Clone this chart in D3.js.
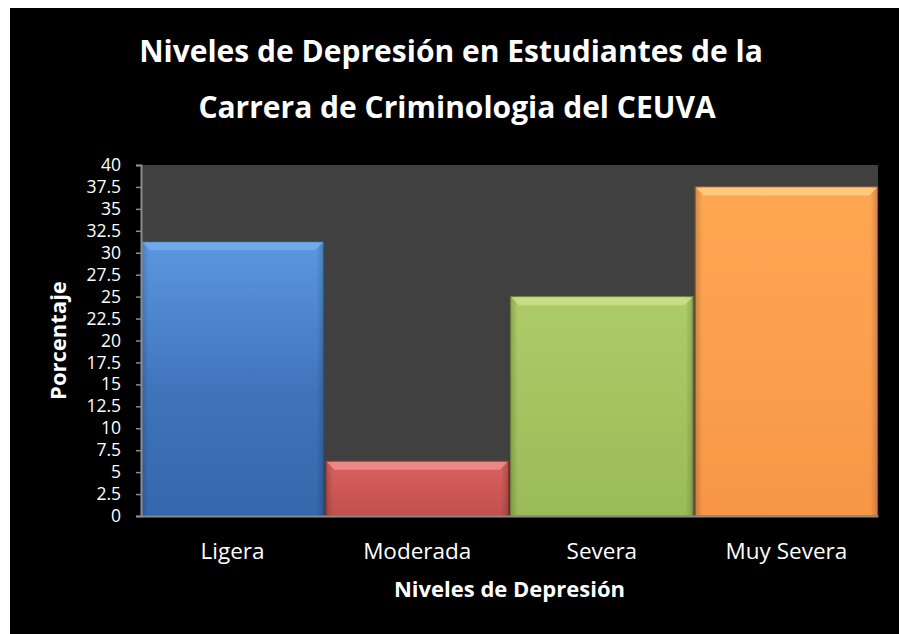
<!DOCTYPE html>
<html>
<head>
<meta charset="utf-8">
<script src="https://cdn.jsdelivr.net/npm/d3@7"></script>
<style>
  html, body { margin: 0; padding: 0; background: #ffffff; }
  svg { display: block; }
  text { font-family: "Open Sans", Lato, sans-serif; fill: #ffffff; }
</style>
</head>
<body>
<svg id="chart" width="899" height="634"></svg>
<script>
// Depression levels (percent of students)
const categories = ["Ligera", "Moderada", "Severa", "Muy Severa"];
const values = [31.25, 6.25, 25, 37.5];
const tickValues = [0, 2.5, 5, 7.5, 10, 12.5, 15, 17.5, 20, 22.5, 25, 27.5, 30, 32.5, 35, 37.5, 40];
const titleLines = ["Niveles de Depresión en Estudiantes de la", "Carrera de Criminologia del CEUVA"];
const xTitle = "Niveles de Depresión";
const yTitle = "Porcentaje";
const barColors = [
  { top: "#5b97e0", body: "#3f74bb", bottom: "#3567ab", edge: "#2b558e", bevel: "#78b2f2" },
  { top: "#d9615e", body: "#cc5855", bottom: "#c0504d", edge: "#8e3533", bevel: "#f39a97" },
  { top: "#aecb69", body: "#a4c35f", bottom: "#9bbb59", edge: "#6f8a3c", bevel: "#d0e696" },
  { top: "#ffa653", body: "#fa9f4d", bottom: "#f79646", edge: "#a8602a", bevel: "#ffd88e" }
];

const W = 899, H = 634;
const svg = d3.select("#chart");

// chart frame: black panel with a thin white margin top/left
svg.append("rect").attr("x", 10).attr("y", 8).attr("width", W - 10).attr("height", H - 8).attr("fill", "#000000");

const plot = { left: 141, right: 878, top: 165, bottom: 516 };

const x = d3.scaleBand().domain(categories).range([plot.left, plot.right]).paddingInner(0.012).paddingOuter(0.002);
const y = d3.scaleLinear().domain([0, 40]).range([plot.bottom, plot.top]);

// plot background
svg.append("rect")
  .attr("x", plot.left).attr("y", plot.top)
  .attr("width", plot.right - plot.left).attr("height", plot.bottom - plot.top)
  .attr("fill", "#404040");

// gradients per bar
const defs = svg.append("defs");
barColors.forEach((c, i) => {
  const g = defs.append("linearGradient").attr("id", "bg" + i).attr("x1", 0).attr("y1", 0).attr("x2", 0).attr("y2", 1);
  g.append("stop").attr("offset", "0%").attr("stop-color", c.top);
  g.append("stop").attr("offset", "55%").attr("stop-color", c.body);
  g.append("stop").attr("offset", "100%").attr("stop-color", c.bottom);
  const s = defs.append("linearGradient").attr("id", "sg" + i).attr("x1", 0).attr("y1", 0).attr("x2", 1).attr("y2", 0);
  s.append("stop").attr("offset", "0%").attr("stop-color", "#000").attr("stop-opacity", 0.18);
  s.append("stop").attr("offset", "4%").attr("stop-color", "#000").attr("stop-opacity", 0);
  s.append("stop").attr("offset", "96%").attr("stop-color", "#000").attr("stop-opacity", 0);
  s.append("stop").attr("offset", "100%").attr("stop-color", "#000").attr("stop-opacity", 0.18);
});

// bars with a bevelled top edge
const bars = svg.append("g").selectAll("g").data(categories.map((c, i) => ({ c, v: values[i], i })))
  .join("g");

bars.append("rect")
  .attr("x", d => x(d.c)).attr("y", d => y(d.v))
  .attr("width", x.bandwidth()).attr("height", d => y(0) - y(d.v))
  .attr("fill", d => `url(#bg${d.i})`)
  .attr("stroke", d => barColors[d.i].edge).attr("stroke-width", 1);

bars.append("rect")
  .attr("x", d => x(d.c)).attr("y", d => y(d.v))
  .attr("width", x.bandwidth()).attr("height", d => y(0) - y(d.v))
  .attr("fill", d => `url(#sg${d.i})`);

const bevel = 8;
bars.append("path")
  .attr("d", d => {
    const x0 = x(d.c) + 0.5, x1 = x(d.c) + x.bandwidth() - 0.5, y0 = y(d.v) + 0.5;
    return `M${x0},${y0}L${x1},${y0}L${x1 - bevel},${y0 + bevel}L${x0 + bevel},${y0 + bevel}Z`;
  })
  .attr("fill", d => barColors[d.i].bevel)
  .attr("opacity", 0.7);

// axes
const yAxis = d3.axisLeft(y).tickValues(tickValues).tickSize(5).tickPadding(15).tickFormat(d3.format("~g"));
const gy = svg.append("g").attr("transform", `translate(${plot.left},0)`).call(yAxis);
gy.select(".domain").attr("stroke", "#8c8c8c").attr("stroke-width", 2);
gy.selectAll(".tick line").attr("stroke", "#8c8c8c").attr("stroke-width", 1.5);
gy.selectAll(".tick text").attr("fill", "#ffffff").style("font-size", "17.5px").style("font-family", "'Open Sans', sans-serif");

const xAxis = d3.axisBottom(x).tickSize(0).tickPadding(27);
const gx = svg.append("g").attr("transform", `translate(0,${plot.bottom})`).call(xAxis);
gx.select(".domain").attr("stroke", "#8c8c8c").attr("stroke-width", 2);
gx.selectAll(".tick text").attr("fill", "#ffffff").style("font-size", "22.5px").style("font-family", "'Open Sans', sans-serif");

// titles
svg.append("g").selectAll("text").data(titleLines).join("text")
  .attr("x", (d, i) => 451 + i * 6).attr("y", (d, i) => 62 + i * 56)
  .attr("text-anchor", "middle")
  .style("font-size", "30px").style("font-weight", "bold")
  .text(d => d);

svg.append("text")
  .attr("x", (plot.left + plot.right) / 2).attr("y", 597)
  .attr("text-anchor", "middle")
  .style("font-size", "22px").style("font-weight", "bold")
  .text(xTitle);

svg.append("text")
  .attr("transform", `translate(66,${(plot.top + plot.bottom) / 2}) rotate(-90)`)
  .attr("text-anchor", "middle")
  .style("font-size", "22px").style("font-weight", "bold")
  .text(yTitle);
</script>
</body>
</html>
